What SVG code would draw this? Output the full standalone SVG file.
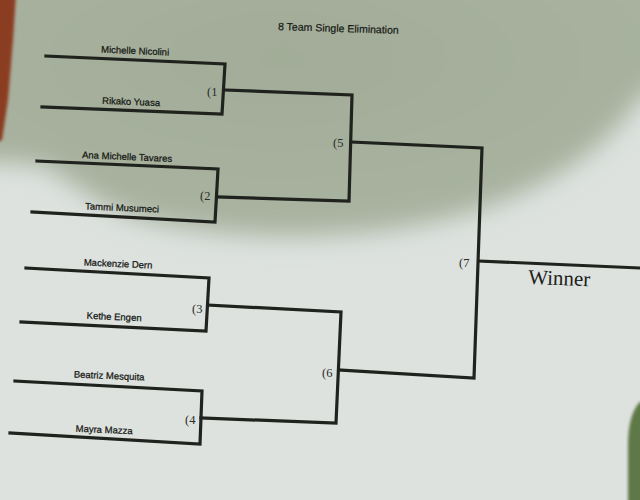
<svg xmlns="http://www.w3.org/2000/svg" width="640" height="500" viewBox="0 0 640 500">
  <defs>
    <filter id="blur" x="-20%" y="-20%" width="140%" height="140%">
      <feGaussianBlur stdDeviation="12"/>
    </filter>
    <filter id="soft" x="-50%" y="-20%" width="200%" height="140%">
      <feGaussianBlur stdDeviation="1.5"/>
    </filter>
    <radialGradient id="shade" cx="0.45" cy="0.4" r="0.7">
      <stop offset="0" stop-color="#a2ac98"/>
      <stop offset="0.75" stop-color="#a8b29f"/>
      <stop offset="1" stop-color="#b2bbab"/>
    </radialGradient>
    <style>
      .ln { fill: none; stroke: #1f221d; stroke-width: 3.2; stroke-linejoin: miter; stroke-linecap: square; }
      .nm { font-family: "Liberation Sans", Arial, sans-serif; font-size: 9.5px; fill: #161814; stroke: #161814; stroke-width: 0.25; text-anchor: middle; }
      .rd { font-family: "Liberation Serif", "Times New Roman", serif; font-size: 12.5px; fill: #2a2c28; }
      .tt { font-family: "Liberation Sans", Arial, sans-serif; font-size: 10.5px; fill: #161814; stroke: #161814; stroke-width: 0.2; }
      .wn { font-family: "Liberation Serif", "Times New Roman", serif; font-size: 21px; fill: #1c1e1a; }
    </style>
  </defs>

  <!-- photo background -->
  <rect x="0" y="0" width="640" height="500" fill="#dde2df"/>
  <path d="M-60,-60 L700,-60 L700,60 L640,98 C 600,160 520,205 420,225 C 330,242 230,240 150,222 C 100,210 70,178 40,165 L-60,158 Z" fill="url(#shade)" filter="url(#blur)"/>
  <path d="M-20,-20 L17,-20 L13,40 L8,100 L2,140 L-20,150 Z" fill="#8b3c22" filter="url(#soft)"/>
  <path d="M660,400 L640,402 C 632,410 628,425 628,445 L628,520 L660,520 Z" fill="#5e7846" filter="url(#soft)"/>

  <text class="tt" x="278" y="30" transform="rotate(1.8 278 30)">8 Team Single Elimination</text>

  <!-- player nodes -->
  <g id="p1"><text class="nm" x="135" y="54" transform="rotate(2.5 135 54)">Michelle Nicolini</text></g>
  <g id="p2"><text class="nm" x="131" y="105" transform="rotate(2.5 131 105)">Rikako Yuasa</text></g>
  <g id="p3"><text class="nm" x="127" y="160" transform="rotate(2.5 127 160)">Ana Michelle Tavares</text></g>
  <g id="p4"><text class="nm" x="122" y="211" transform="rotate(2.5 122 211)">Tammi Musumeci</text></g>
  <g id="p5"><text class="nm" x="118" y="267" transform="rotate(2.5 118 267)">Mackenzie Dern</text></g>
  <g id="p6"><text class="nm" x="114" y="320" transform="rotate(2.5 114 320)">Kethe Engen</text></g>
  <g id="p7"><text class="nm" x="109" y="379" transform="rotate(2.5 109 379)">Beatriz Mesquita</text></g>
  <g id="p8"><text class="nm" x="104" y="433" transform="rotate(2.5 104 433)">Mayra Mazza</text></g>

  <!-- round labels -->
  <g id="m1"><text class="rd" x="207" y="96">(1</text></g>
  <g id="m2"><text class="rd" x="200" y="200">(2</text></g>
  <g id="m3"><text class="rd" x="192" y="313">(3</text></g>
  <g id="m4"><text class="rd" x="185" y="424">(4</text></g>
  <g id="m5"><text class="rd" x="333" y="147">(5</text></g>
  <g id="m6"><text class="rd" x="322" y="377">(6</text></g>
  <g id="m7"><text class="rd" x="459" y="267">(7</text></g>
  <g id="winner"><text class="wn" x="528" y="284" transform="rotate(2 528 284)">Winner</text></g>

  <!-- connectors -->
  <g id="connectors">
    <path class="ln" d="M46,56 L225,64 L222,114 L42,107"/>
    <path class="ln" d="M37,161 L218,169 L215,222 L32,212"/>
    <path class="ln" d="M26,268 L209,278 L206,331 L21,322"/>
    <path class="ln" d="M15,381 L202,391 L200,444 L10,433"/>
    <path class="ln" d="M226,90 L352,95 L349,201 L218,197"/>
    <path class="ln" d="M208,305 L341,312 L336,423 L201,418"/>
    <path class="ln" d="M352,142 L482,148 L474,378 L339,370"/>
    <path class="ln" d="M479,261 L640,268"/>
  </g>
</svg>
